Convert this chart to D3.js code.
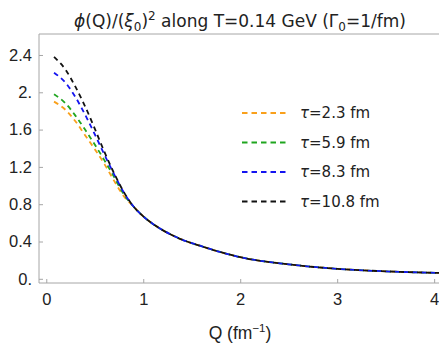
<!DOCTYPE html>
<html>
<head>
<meta charset="utf-8">
<script src="https://cdn.jsdelivr.net/npm/d3@7"></script>
<style>
  body { margin: 0; background: #fff; }
  svg { display: block; }
</style>
</head>
<body>
<div id="chart"></div>
<script>
// Q grid (fm^-1) and phi(Q)/(xi0)^2
const qLow = [0.08, 0.2, 0.3, 0.4, 0.5, 0.6, 0.7, 0.8];
const qHigh = [0.9, 1.0, 1.1, 1.2, 1.3, 1.4, 1.6, 1.8, 2.0, 2.5, 3.0, 3.5, 4.05];
// all four curves coincide above Q ~ 0.9
const tailValues = [0.775, 0.67, 0.588, 0.522, 0.467, 0.42, 0.35, 0.285, 0.232, 0.155, 0.107, 0.08, 0.063];

const tau23 = [1.90, 1.81, 1.69, 1.54, 1.39, 1.23, 1.05, 0.885];
const tau59 = [1.98, 1.88, 1.75, 1.60, 1.44, 1.27, 1.09, 0.905];
const tau83 = [2.21, 2.10, 1.95, 1.76, 1.55, 1.33, 1.12, 0.925];
const tau108 = [2.38, 2.24, 2.06, 1.85, 1.61, 1.36, 1.13, 0.93];

const seriesNames = ['τ=2.3 fm', 'τ=5.9 fm', 'τ=8.3 fm', 'τ=10.8 fm'];
const seriesColors = ['#f9a01b', '#1fa51f', '#1414f0', '#111111'];

const xTicks = [0, 1, 2, 3, 4];
const yTicks = [0, 0.4, 0.8, 1.2, 1.6, 2.0, 2.4];
const yTickLabels = ['0.', '0.4', '0.8', '1.2', '1.6', '2.', '2.4'];

const width = 439;
const height = 344;
const plotLeft = 39, plotRight = 439, plotTop = 34, plotBottom = 283;

const svg = d3.select('#chart')
    .append('svg')
    .attr('width', width)
    .attr('height', height);

const x = d3.scaleLinear().domain([-0.075, 4.05]).range([plotLeft, plotRight]);
const y = d3.scaleLinear().domain([-0.045, 2.625]).range([plotBottom, plotTop]);

// frame: left, bottom and top lines, ticks pointing inward
const frame = svg.append('g').attr('class', 'frame');
frame.append('path')
    .attr('d', `M${plotRight},${plotTop}H${plotLeft}V${plotBottom}H${plotRight}`)
    .attr('fill', 'none')
    .attr('stroke', '#a6a6a6')
    .attr('stroke-width', 1);

const xAxis = svg.append('g')
    .attr('transform', `translate(0,${plotBottom})`)
    .call(d3.axisBottom(x).tickValues(xTicks).tickSizeInner(-4).tickSizeOuter(0).tickPadding(10).tickFormat(d3.format('d')));

const yAxis = svg.append('g')
    .attr('transform', `translate(${plotLeft},0)`)
    .call(d3.axisLeft(y).tickValues(yTicks).tickSizeInner(-4).tickSizeOuter(0).tickPadding(7)
        .tickFormat((d, i) => yTickLabels[i]));

[xAxis, yAxis].forEach(g => {
    g.select('.domain').remove();
    g.selectAll('.tick line').attr('stroke', '#a6a6a6');
    g.selectAll('.tick text')
        .attr('fill', '#222')
        .style('font-family', '"Liberation Sans", Arial, sans-serif')
        .style('font-size', '16.5px');
});

// curves
const allSeries = [tau23, tau59, tau83, tau108].map(low =>
    qLow.map((q, i) => [q, low[i]]).concat(qHigh.map((q, i) => [q, tailValues[i]])));

const line = d3.line()
    .x(d => x(d[0]))
    .y(d => y(d[1]))
    .curve(d3.curveMonotoneX);

const plot = svg.append('g').attr('class', 'curves');
plot.selectAll('path')
    .data(allSeries)
    .enter()
    .append('path')
    .attr('d', line)
    .attr('fill', 'none')
    .attr('stroke', (d, i) => seriesColors[i])
    .attr('stroke-width', 1.8)
    .attr('stroke-dasharray', '5,4');

// legend
const legend = svg.append('g').attr('class', 'legend');
const legendRows = legend.selectAll('g')
    .data(seriesNames)
    .enter()
    .append('g')
    .attr('transform', (d, i) => `translate(242,${113 + i * 29.5})`);

legendRows.append('line')
    .attr('x1', 0).attr('x2', 46)
    .attr('y1', 0).attr('y2', 0)
    .attr('stroke', (d, i) => seriesColors[i])
    .attr('stroke-width', 1.8)
    .attr('stroke-dasharray', '5.5,4');

const legendText = legendRows.append('text')
    .attr('x', 58)
    .attr('y', 5)
    .attr('fill', '#222')
    .style('font-family', '"DejaVu Sans", sans-serif')
    .style('font-size', '15px');
legendText.append('tspan').style('font-style', 'italic').text('τ');
legendText.append('tspan').text(d => d.slice(1));

// title
const title = svg.append('text')
    .attr('x', 240)
    .attr('y', 27)
    .attr('text-anchor', 'middle')
    .attr('fill', '#222')
    .style('font-family', '"DejaVu Sans", sans-serif')
    .style('font-size', '17px');
title.append('tspan').style('font-style', 'italic').text('ϕ');
title.append('tspan').text('(Q)/(');
title.append('tspan').style('font-style', 'italic').text('ξ');
title.append('tspan').attr('dy', 4).style('font-size', '12px').text('0');
title.append('tspan').attr('dy', -4).text(')');
title.append('tspan').attr('dy', -7).style('font-size', '12px').text('2');
title.append('tspan').attr('dy', 7).text(' along T=0.14 GeV (Γ');
title.append('tspan').attr('dy', 4).style('font-size', '12px').text('0');
title.append('tspan').attr('dy', -4).text('=1/fm)');

// x label
const xLabel = svg.append('text')
    .attr('x', 240)
    .attr('y', 339)
    .attr('text-anchor', 'middle')
    .attr('fill', '#222')
    .style('font-family', '"Liberation Sans", Arial, sans-serif')
    .style('font-size', '17.5px');
xLabel.append('tspan').text('Q (fm');
xLabel.append('tspan').attr('dy', -7).style('font-size', '11.5px').text('−1');
xLabel.append('tspan').attr('dy', 7).text(')');
</script>
</body>
</html>
